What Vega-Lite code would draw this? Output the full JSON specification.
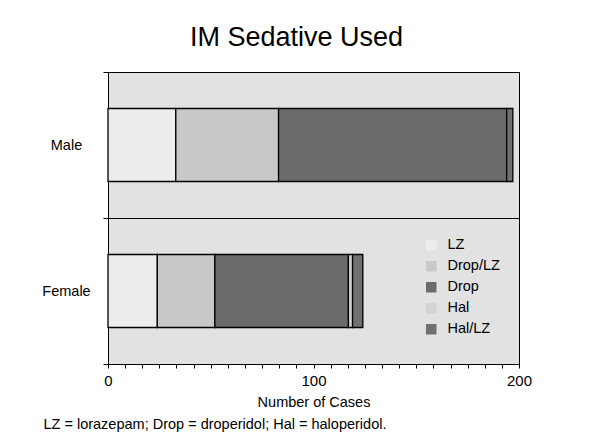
{
  "$schema": "https://vega.github.io/schema/vega-lite/v6.json",
  "autosize": {"type": "none"},
  "padding": {"left": 108, "top": 72, "right": 73, "bottom": 80},
  "width": 411,
  "height": 292,
  "background": "white",
  "title": {
    "text": "IM Sedative Used",
    "font": "Liberation Sans",
    "fontSize": 27,
    "fontWeight": "normal",
    "color": "black",
    "anchor": "middle",
    "dx": -17,
    "offset": 12
  },
  "data": {
    "values": [
      {"sex": "Male", "sedative": "LZ", "ord": 1, "cases": 33},
      {"sex": "Male", "sedative": "Drop/LZ", "ord": 2, "cases": 50},
      {"sex": "Male", "sedative": "Drop", "ord": 3, "cases": 111},
      {"sex": "Male", "sedative": "Hal", "ord": 4, "cases": 0},
      {"sex": "Male", "sedative": "Hal/LZ", "ord": 5, "cases": 3},
      {"sex": "Female", "sedative": "LZ", "ord": 1, "cases": 24},
      {"sex": "Female", "sedative": "Drop/LZ", "ord": 2, "cases": 28},
      {"sex": "Female", "sedative": "Drop", "ord": 3, "cases": 65},
      {"sex": "Female", "sedative": "Hal", "ord": 4, "cases": 2},
      {"sex": "Female", "sedative": "Hal/LZ", "ord": 5, "cases": 5}
    ]
  },
  "mark": {"type": "bar", "stroke": "black", "strokeWidth": 1.3, "height": {"band": 0.5}},
  "encoding": {
    "y": {
      "field": "sex",
      "type": "nominal",
      "sort": ["Male", "Female"],
      "scale": {"paddingInner": 0, "paddingOuter": 0},
      "axis": {
        "title": "LZ = lorazepam; Drop = droperidol; Hal = haloperidol.",
        "titleAngle": 0,
        "titleAlign": "left",
        "titleBaseline": "alphabetic",
        "titleX": -65,
        "titleY": 356,
        "titleFont": "Liberation Sans",
        "titleFontSize": 14.5,
        "titleFontWeight": "normal",
        "titleColor": "black",
        "tickBand": "extent",
        "tickSize": 5,
        "tickColor": "black",
        "domainColor": "black",
        "grid": true,
        "gridColor": "black",
        "gridOpacity": 1,
        "labelAlign": "center",
        "labelPadding": 37,
        "labelFont": "Liberation Sans",
        "labelFontSize": 14.5,
        "labelColor": "black"
      }
    },
    "x": {
      "field": "cases",
      "type": "quantitative",
      "stack": "zero",
      "scale": {"domain": [0, 200], "nice": false},
      "axis": {
        "title": "Number of Cases",
        "titleFont": "Liberation Sans",
        "titleFontSize": 14.5,
        "titleFontWeight": "normal",
        "titleColor": "black",
        "titlePadding": 7,
        "values": [0, 8.333, 16.667, 25, 33.333, 41.667, 50, 58.333, 66.667, 75, 83.333, 91.667, 100, 108.333, 116.667, 125, 133.333, 141.667, 150, 158.333, 166.667, 175, 183.333, 191.667, 200],
        "labelExpr": "(datum.value == 0 || datum.value == 100 || datum.value == 200) ? datum.label : ''",
        "labelOverlap": false,
        "labelFlush": false,
        "grid": false,
        "tickSize": 4,
        "tickColor": "black",
        "domainColor": "black",
        "labelPadding": 5,
        "labelFont": "Liberation Sans",
        "labelFontSize": 15,
        "labelColor": "black"
      }
    },
    "color": {
      "field": "sedative",
      "type": "nominal",
      "sort": ["LZ", "Drop/LZ", "Drop", "Hal", "Hal/LZ"],
      "scale": {
        "domain": ["LZ", "Drop/LZ", "Drop", "Hal", "Hal/LZ"],
        "range": ["#ececec", "#c8c8c8", "#6b6b6b", "#d4d4d4", "#707070"]
      },
      "legend": {
        "title": null,
        "orient": "none",
        "legendX": 316,
        "legendY": 166,
        "symbolType": "square",
        "symbolSize": 110,
        "symbolStrokeWidth": 0,
        "symbolOpacity": 1,
        "labelFont": "Liberation Sans",
        "labelFontSize": 14.5,
        "labelColor": "black",
        "labelOffset": 9,
        "rowPadding": 6
      }
    },
    "order": {"field": "ord", "type": "quantitative"}
  },
  "config": {
    "view": {"fill": "#e2e2e2", "stroke": "black", "strokeWidth": 1}
  }
}
